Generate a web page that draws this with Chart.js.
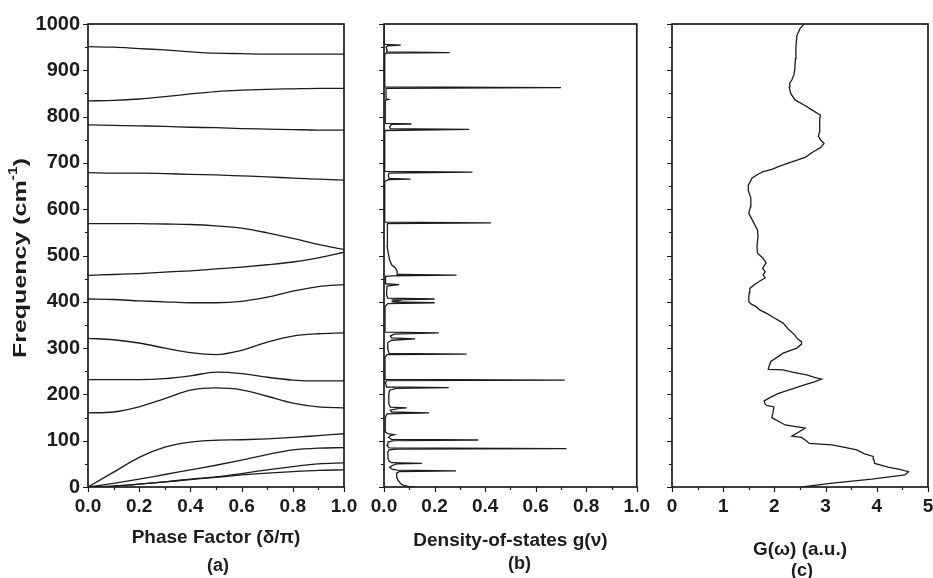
<!DOCTYPE html>
<html>
<head>
<meta charset="utf-8">
<script src="https://cdn.jsdelivr.net/npm/chart.js@4.4.0/dist/chart.umd.min.js"></script>
<style>
  html, body { margin: 0; padding: 0; background: #fff; overflow: hidden; }
  #wrap { position: relative; width: 933px; height: 578px; overflow: hidden; }
  canvas { position: absolute; top: 0; }
</style>
</head>
<body>
<div id="wrap">
  <canvas id="phaseChart" width="362" height="578" style="left:0"></canvas>
  <canvas id="dosChart" width="293" height="578" style="left:360px"></canvas>
  <canvas id="gChart" width="290" height="578" style="left:650px"></canvas>
</div>
<script>
// tick labels
const freqTicks = [0, 100, 200, 300, 400, 500, 600, 700, 800, 900, 1000];
const phaseTicks = [0, 0.2, 0.4, 0.6, 0.8, 1.0];
const dosTicks = [0, 0.2, 0.4, 0.6, 0.8, 1.0];
const gTicks = [0, 1, 2, 3, 4, 5];

// (a) dispersion branches, one row per branch, sampled at each phase value
const phase = [0, 0.1, 0.2, 0.3, 0.4, 0.5, 0.6, 0.7, 0.8, 0.9, 1.0];
const bands = [
  [951, 950, 947, 944, 940, 937, 936, 935, 935, 935, 935],
  [834, 835, 838, 843, 849, 854, 857, 859, 860, 861, 861],
  [782, 781, 780, 779, 777, 776, 774, 773, 772, 771, 771],
  [679, 678, 678, 677, 675, 674, 672, 670, 667, 665, 663],
  [569, 569, 569, 568, 567, 564, 559, 549, 537, 524, 513],
  [457, 459, 461, 464, 467, 471, 475, 480, 486, 495, 507],
  [406, 405, 402, 400, 398, 398, 401, 410, 423, 433, 437],
  [321, 318, 311, 300, 290, 286, 295, 313, 326, 331, 333],
  [232, 232, 232, 234, 240, 248, 245, 237, 231, 229, 229],
  [160, 162, 173, 191, 209, 214, 210, 196, 181, 173, 171],
  [0, 32, 64, 86, 97, 101, 102, 104, 107, 111, 115],
  [0, 8, 17, 27, 37, 47, 58, 70, 80, 84, 85],
  [0, 2, 6, 11, 17, 22, 29, 37, 44, 50, 52],
  [0, 2, 6, 11, 16, 21, 26, 30, 33, 36, 37]
];

// (b) density of states g(v) against frequency
const dosFreq = [
  0, 1, 4, 8, 15, 22, 30, 33, 35, 36.5, 39, 43, 47, 50, 51, 52.5, 56, 62, 75, 80,
  82, 83, 84.5, 90, 97, 100, 101.5, 103, 107, 111, 113, 115, 119, 150, 158, 160, 162, 166, 170, 171,
  172.5, 180, 200, 209, 213, 214.5, 216, 225, 230, 231, 232.5, 280, 286, 287, 288.5, 300, 312, 317, 320, 322,
  326, 330, 333, 334.5, 390, 396, 398, 400, 402, 404, 406, 408, 415, 434, 437, 439, 455, 456, 457.5, 459,
  466, 473, 480, 490, 505, 520, 560, 569, 570.5, 572, 660, 664, 665, 666.5, 672, 678, 680, 681.5, 770, 772.5,
  774, 778, 783, 784, 785.5, 835, 837, 838, 861, 862.5, 864, 935, 937, 938, 939.5, 945, 950, 953, 954.5, 956,
  1000
];
const dosG = [
  0.12, 0.1, 0.075, 0.065, 0.055, 0.05, 0.05, 0.06, 0.285, 0.05, 0.03, 0.022, 0.035, 0.05, 0.15, 0.03, 0.02, 0.016, 0.015, 0.02,
  0.05, 0.722, 0.02, 0.012, 0.015, 0.04, 0.373, 0.03, 0.018, 0.025, 0.04, 0.015, 0.006, 0.005, 0.012, 0.178, 0.03, 0.025, 0.06, 0.09,
  0.025, 0.019, 0.019, 0.022, 0.05, 0.256, 0.01, 0.006, 0.01, 0.715, 0.005, 0.004, 0.012, 0.327, 0.02, 0.014, 0.015, 0.03, 0.123, 0.03,
  0.025, 0.04, 0.217, 0.006, 0.004, 0.015, 0.2, 0.03, 0.055, 0.03, 0.2, 0.015, 0.01, 0.012, 0.06, 0.004, 0.006, 0.03, 0.287, 0.055,
  0.052, 0.045, 0.03, 0.022, 0.017, 0.012, 0.012, 0.015, 0.423, 0.003, 0.003, 0.017, 0.105, 0.02, 0.017, 0.02, 0.35, 0.003, 0.003, 0.337,
  0.025, 0.022, 0.03, 0.109, 0.005, 0.005, 0.017, 0.008, 0.008, 0.70, 0.003, 0.003, 0.01, 0.26, 0.01, 0.012, 0.008, 0.015, 0.066, 0.003,
  0
];

// (c) G(w) against frequency
const gFreq = [
  0, 8, 17, 26, 33, 38, 43, 51, 60, 66, 72, 80, 86, 91, 94, 100, 107, 110, 127, 134,
  150, 159, 173, 176, 179, 186, 194, 202, 212, 220, 227, 233, 236, 242, 248, 253, 254, 262, 271, 280,
  289, 300, 308, 314, 320, 328, 340, 354, 365, 375, 382, 389, 395, 400, 410, 420, 429, 438, 447, 452,
  458, 465, 472, 478, 484, 494, 505, 520, 540, 555, 570, 591, 605, 624, 640, 652, 660, 667, 675, 681,
  686, 692, 697, 702, 712, 724, 733, 742, 750, 758, 767, 780, 795, 803, 814, 825, 836, 850, 863, 872,
  879, 890, 903, 925, 951, 975, 990, 1000
];
const gVal = [
  2.55, 3.09, 3.90, 4.55, 4.62, 4.45, 4.22, 3.96, 3.94, 3.93, 3.75, 3.61, 3.35, 3.12, 2.68, 2.62, 2.53, 2.34, 2.60, 2.21,
  1.95, 1.97, 1.99, 1.85, 1.82, 1.80, 1.93, 2.08, 2.35, 2.57, 2.78, 2.92, 2.80, 2.63, 2.35, 2.17, 1.88, 1.90, 1.93, 2.05,
  2.17, 2.44, 2.52, 2.53, 2.45, 2.40, 2.28, 2.17, 2.00, 1.85, 1.72, 1.65, 1.55, 1.50, 1.50, 1.51, 1.52, 1.62, 1.75, 1.82,
  1.78, 1.82, 1.77, 1.80, 1.84, 1.78, 1.67, 1.66, 1.68, 1.67, 1.60, 1.50, 1.53, 1.54, 1.49, 1.49, 1.53, 1.56, 1.67, 1.78,
  1.95, 2.08, 2.20, 2.34, 2.60, 2.76, 2.90, 2.97, 2.90, 2.86, 2.88, 2.88, 2.89, 2.90, 2.74, 2.58, 2.40, 2.32, 2.29, 2.30,
  2.34, 2.38, 2.40, 2.41, 2.42, 2.44, 2.50, 2.58
];

const ink = '#1c1c1c';
const fontFamily = '"Liberation Sans", Arial, sans-serif';
Chart.defaults.font.family = fontFamily;
Chart.defaults.font.weight = 'bold';
Chart.defaults.color = ink;

const near = (list, v) => list.some(m => Math.abs(m - v) < 1e-6);

// box around the plot plus outward major/minor tick marks
const frameTicks = {
  id: 'frameTicks',
  afterDraw(chart, args, opts) {
    const { ctx, chartArea: a, scales: { x, y } } = chart;
    ctx.save();
    ctx.strokeStyle = ink;
    ctx.lineWidth = 1.2;
    ctx.beginPath();
    x.ticks.forEach(t => {
      const px = Math.round(x.getPixelForValue(t.value)) + 0.5;
      const len = near(opts.xMajor, t.value) ? 5 : 3;
      ctx.moveTo(px, a.bottom);
      ctx.lineTo(px, a.bottom + len);
    });
    y.ticks.forEach(t => {
      const py = Math.round(y.getPixelForValue(t.value)) + 0.5;
      const len = near(freqTicks, t.value) ? 5 : 3;
      ctx.moveTo(a.left, py);
      ctx.lineTo(a.left - len, py);
    });
    ctx.stroke();
    ctx.lineWidth = 1.7;
    ctx.strokeRect(a.left, a.top, a.right - a.left, a.bottom - a.top);
    ctx.restore();
  }
};

// (a) / (b) / (c) under each panel
const panelTag = {
  id: 'panelTag',
  afterDraw(chart, args, opts) {
    const { ctx, chartArea: a } = chart;
    ctx.save();
    ctx.font = 'bold 18px ' + fontFamily;
    ctx.fillStyle = ink;
    ctx.textAlign = 'center';
    ctx.textBaseline = 'middle';
    ctx.fillText(opts.text, (a.left + a.right) / 2 + opts.dx, opts.y);
    ctx.restore();
  }
};

// rotated frequency title with the cm^-1 superscript
const freqTitle = {
  id: 'freqTitle',
  afterDraw(chart) {
    const ctx = chart.ctx;
    const main = 'bold 19px ' + fontFamily;
    const small = 'bold 12px ' + fontFamily;
    const parts = [['Frequency (cm', main, 0], ['-1', small, -7], [')', main, 0]];
    ctx.save();
    let total = 0;
    parts.forEach(p => { ctx.font = p[1]; p.push(ctx.measureText(p[0]).width); total += p[3]; });
    ctx.translate(21, 258);
    ctx.rotate(-Math.PI / 2);
    ctx.scale(200 / total, 1);
    ctx.fillStyle = ink;
    ctx.textBaseline = 'middle';
    let x = -total / 2;
    parts.forEach(p => { ctx.font = p[1]; ctx.fillText(p[0], x, p[2]); x += p[3]; });
    ctx.restore();
  }
};

makeOptions = (cfg) => ({
  responsive: false,
  animation: false,
  layout: { padding: { top: 24, right: cfg.padRight, bottom: 0, left: 0 } },
  plugins: {
    legend: { display: false },
    tooltip: { enabled: false },
    frameTicks: { xMajor: cfg.xMajor },
    panelTag: { text: cfg.tag, dx: cfg.tagDx, y: cfg.tagY }
  },
  scales: {
    x: {
      type: 'linear',
      min: cfg.xMin,
      max: cfg.xMax,
      ticks: {
        stepSize: cfg.xStep,
        autoSkip: false,
        maxRotation: 0,
        padding: 3,
        font: { size: 19, weight: 'bold' },
        callback: v => near(cfg.xMajor, v) ? v.toFixed(cfg.xDigits) : ''
      },
      grid: { display: false, drawTicks: true, tickLength: 5 },
      border: { display: false },
      title: {
        display: true,
        text: cfg.title,
        font: { size: 19, weight: 'bold' },
        padding: { top: 0, bottom: cfg.titlePad }
      },
      afterFit: s => { s.height = 91; }
    },
    y: {
      type: 'linear',
      min: 0,
      max: 1000,
      ticks: {
        stepSize: 50,
        display: cfg.showY,
        autoSkip: false,
        padding: 3,
        font: { size: 20, weight: 'bold' },
        callback: v => near(freqTicks, v) ? String(v) : ''
      },
      grid: { display: false, drawTicks: true, tickLength: 5 },
      border: { display: false },
      afterFit: s => { s.width = cfg.yWidth; }
    }
  }
});

lineSet = (points, extra) => Object.assign({
  data: points,
  showLine: true,
  borderColor: ink,
  borderWidth: 1.3,
  pointRadius: 0,
  fill: false
}, extra);

new Chart(document.getElementById('phaseChart'), {
  type: 'scatter',
  data: {
    datasets: bands.map(b => lineSet(phase.map((p, i) => ({ x: p, y: b[i] })), { cubicInterpolationMode: 'monotone' }))
  },
  options: makeOptions({
    xMin: 0, xMax: 1, xStep: 0.1, xMajor: phaseTicks, xDigits: 1,
    title: 'Phase Factor (δ/π)', titlePad: 29, showY: true, yWidth: 88, padRight: 18,
    tag: '(a)', tagDx: 2, tagY: 566
  }),
  plugins: [frameTicks, panelTag, freqTitle]
});

new Chart(document.getElementById('dosChart'), {
  type: 'scatter',
  data: {
    datasets: [lineSet(dosFreq.map((f, i) => ({ x: dosG[i], y: f })), { tension: 0 })]
  },
  options: makeOptions({
    xMin: 0, xMax: 1, xStep: 0.1, xMajor: dosTicks, xDigits: 1,
    title: 'Density-of-states g(ν)', titlePad: 26, showY: false, yWidth: 24, padRight: 16,
    tag: '(b)', tagDx: 9, tagY: 564
  }),
  plugins: [frameTicks, panelTag]
});

new Chart(document.getElementById('gChart'), {
  type: 'scatter',
  data: {
    datasets: [lineSet(gFreq.map((f, i) => ({ x: gVal[i], y: f })), { tension: 0 })]
  },
  options: makeOptions({
    xMin: 0, xMax: 5, xStep: 0.5, xMajor: gTicks, xDigits: 0,
    title: 'G(ω) (a.u.)', titlePad: 17, showY: false, yWidth: 22, padRight: 12,
    tag: '(c)', tagDx: 2, tagY: 571
  }),
  plugins: [frameTicks, panelTag]
});
</script>
</body>
</html>
